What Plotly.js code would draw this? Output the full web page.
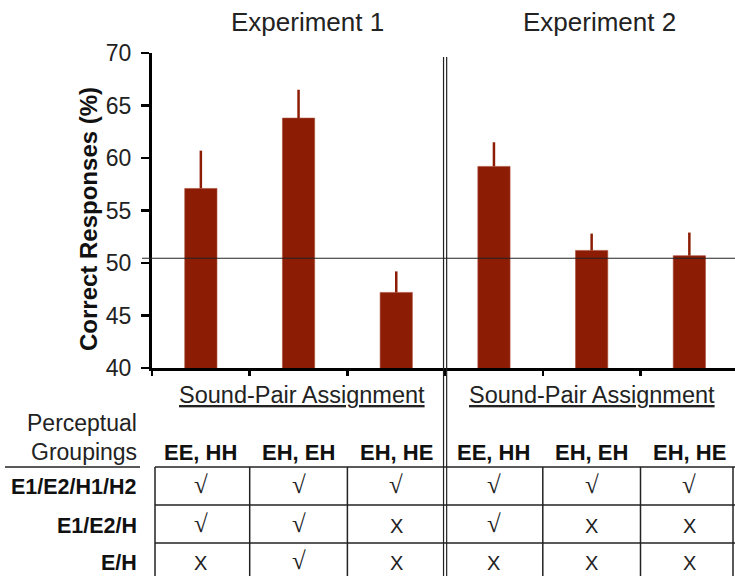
<!DOCTYPE html>
<html>
<head>
<meta charset="utf-8">
<script src="https://cdn.plot.ly/plotly-3.0.1.min.js"></script>
<style>html,body{margin:0;padding:0;background:#fff;overflow:hidden}#chart{width:735px;height:576px}</style>
</head>
<body>
<div id="chart"></div>
<script>
// ---- data ----
const experiments = ["Experiment 1", "Experiment 2"];
const assignments = ["EE, HH", "EH, EH", "EH, HE", "EE, HH", "EH, EH", "EH, HE"];
const correct = [57.1, 63.8, 47.2, 59.2, 51.2, 50.7];
const errUp = [3.6, 2.7, 2.0, 2.3, 1.6, 2.2];
const chanceLevel = 50.45;
const groupings = ["E1/E2/H1/H2", "E1/E2/H", "E/H"];
const groupingTable = [
  ["√", "√", "√", "√", "√", "√"],
  ["√", "√", "X", "√", "X", "X"],
  ["X", "√", "X", "X", "X", "X"]
];
const yTicks = [40, 45, 50, 55, 60, 65, 70];

// ---- layout helpers (pixel -> paper) ----
const W = 735, H = 576, L = 152, T = 53, PH = 315, PW = W - L;
const py = y => (T + PH - y) / PH;   // pixel y -> paper y
const px = x => (x - L) / PW;        // pixel x -> paper x
const CAT = 97.7;
const xd = x => (x - L) / CAT - 0.5; // pixel x -> data x

const FONT = "Arial, 'Liberation Sans', sans-serif";
const SERIF = "'Liberation Serif', 'Times New Roman', serif";
const xIdx = assignments.map((_, i) => i);
const RED = "#8c1d04";

const trace = {
  type: "bar",
  x: xIdx,
  y: correct,
  base: 0,
  width: 0.33,
  marker: {color: RED, line: {color: "#a84a36", width: 0.6}},
  error_y: {type: "data", symmetric: false, array: errUp, arrayminus: errUp.map(() => 0),
            width: 0, thickness: 2.5, color: RED},
  hoverinfo: "skip"
};

const annotations = [];
const shapes = [];

// experiment titles
[[experiments[0], xd(307)], [experiments[1], xd(599)]].forEach(([t, x]) => {
  annotations.push({text: t, xref: "x", yref: "paper", x: x, y: py(22), showarrow: false,
    xanchor: "center", yanchor: "middle", font: {family: FONT, size: 26, color: "#222"}});
});
// y axis title
annotations.push({text: "<b>Correct Responses (%)</b>", textangle: -90, xref: "paper", yref: "paper",
  x: px(88), y: py(219), showarrow: false, xanchor: "center", yanchor: "middle",
  font: {family: FONT, size: 24, color: "#111"}});
// Sound-Pair Assignment
[xd(302), xd(592)].forEach(x => {
  annotations.push({text: "<u>Sound-Pair Assignment</u>", xref: "x", yref: "paper", x: x, y: py(395),
    showarrow: false, xanchor: "center", yanchor: "middle", font: {family: FONT, size: 23.5, color: "#222"}});
});
// Perceptual Groupings
annotations.push({text: "Perceptual", xref: "paper", yref: "paper", x: px(139), y: py(423), showarrow: false,
  xanchor: "right", yanchor: "middle", font: {family: FONT, size: 23, color: "#222"}});
annotations.push({text: "Groupings", xref: "paper", yref: "paper", x: px(139), y: py(452), showarrow: false,
  xanchor: "right", yanchor: "middle", font: {family: FONT, size: 23, color: "#222"}});
// column headers
assignments.forEach((a, i) => {
  annotations.push({text: "<b>" + a + "</b>", xref: "x", yref: "paper", x: i, y: py(452), showarrow: false,
    xanchor: "center", yanchor: "middle", font: {family: FONT, size: 22, color: "#111"}});
});
// rows
const rowY = [487, 526, 563];
groupings.forEach((g, r) => {
  annotations.push({text: "<b>" + g + "</b>", xref: "paper", yref: "paper", x: px(139), y: py(rowY[r]),
    showarrow: false, xanchor: "right", yanchor: "middle", font: {family: FONT, size: 21.5, color: "#111"}});
  groupingTable[r].forEach((v, i) => {
    const isCheck = v === "√";
    annotations.push({text: v, xref: "x", yref: "paper", x: i, y: py(rowY[r] - (isCheck ? 3 : 0)),
      showarrow: false, xanchor: "center", yanchor: "middle",
      font: isCheck ? {family: SERIF, size: 25, color: "#222"} : {family: FONT, size: 20, color: "#222"}});
  });
});

// chance line
shapes.push({type: "line", xref: "paper", yref: "y", x0: px(142), x1: 1, y0: chanceLevel, y1: chanceLevel,
  line: {color: "#222", width: 1.2}});
// double vertical separator
[-0.016, 0.016].forEach(d => {
  shapes.push({type: "line", xref: "x", yref: "paper", x0: 2.5 + d, x1: 2.5 + d, y0: py(57), y1: py(600),
    line: {color: "#222", width: 1.2}});
});
// table grid
[467, 505, 543].forEach(y => {
  shapes.push({type: "line", xref: "x", yref: "paper", x0: xd(155), x1: xd(735), y0: py(y), y1: py(y),
    line: {color: "#222", width: 1.5}});
});
[xd(155), 0.5, 1.5, 3.5, 4.5, xd(733)].forEach(x => {
  shapes.push({type: "line", xref: "x", yref: "paper", x0: x, x1: x, y0: py(467), y1: py(600),
    line: {color: "#222", width: 1.5}});
});
// Groupings underline
shapes.push({type: "line", xref: "paper", yref: "paper", x0: px(5), x1: px(140), y0: py(467), y1: py(467),
  line: {color: "#222", width: 1.5}});

const layout = {
  width: W, height: H,
  margin: {l: L, r: 0, t: T, b: H - T - PH, pad: 0},
  paper_bgcolor: "#fff", plot_bgcolor: "#fff",
  showlegend: false,
  xaxis: {range: [-0.5, -0.5 + PW / CAT], showgrid: false, zeroline: false, showline: true,
    linecolor: "#000", linewidth: 3, tickvals: [-0.5, 0.5, 1.5, 2.5, 3.5, 4.5], ticks: "outside",
    ticklen: 5, tickwidth: 2.5, tickcolor: "#000", showticklabels: false, fixedrange: true},
  yaxis: {range: [40, 70], tickvals: yTicks, ticktext: yTicks.map(String), showgrid: false, zeroline: false,
    showline: true, linecolor: "#000", linewidth: 3, ticks: "outside", ticklen: 8, tickwidth: 2.5,
    tickcolor: "#000", ticklabelstandoff: 5, tickfont: {family: FONT, size: 23, color: "#222"}, fixedrange: true},
  annotations: annotations,
  shapes: shapes
};

Plotly.newPlot("chart", [trace], layout, {staticPlot: true, displayModeBar: false});
</script>
</body>
</html>
